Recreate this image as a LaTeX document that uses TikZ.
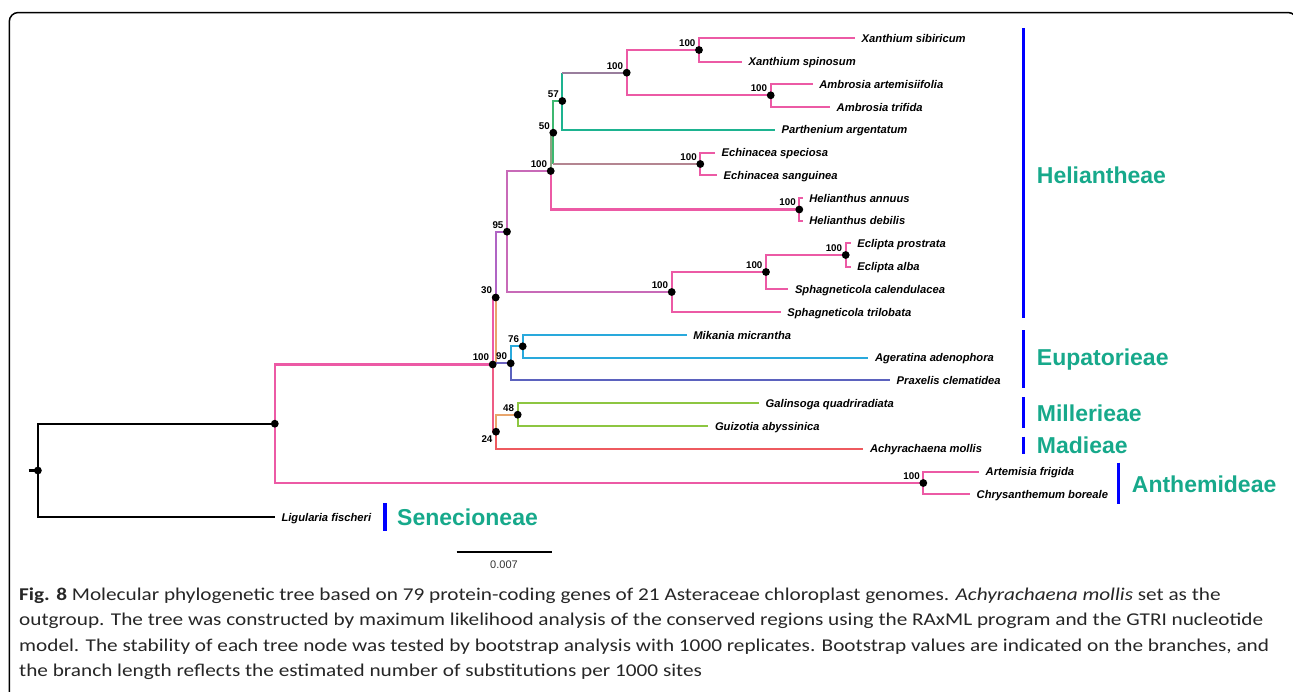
\documentclass[tikz,border=0pt]{standalone}
\usepackage{fontspec}
\setmainfont{Liberation Sans}
\newfontfamily\capfont[FakeStretch=1.18]{Carlito}
\usetikzlibrary{positioning}
\definecolor{brpink}{HTML}{EC5AA5}
\definecolor{brteal}{HTML}{1DB390}
\definecolor{brgreen}{HTML}{3DB870}
\definecolor{brolive}{HTML}{8FA283}
\definecolor{brpurple}{HTML}{B064C4}
\definecolor{brmauve}{HTML}{C86AB8}
\definecolor{brorange}{HTML}{E8A56C}
\definecolor{brcyan}{HTML}{29A9DC}
\definecolor{brindigo}{HTML}{5B62BE}
\definecolor{brlime}{HTML}{8DC641}
\definecolor{brred}{HTML}{EE5A5F}
\definecolor{brrose}{HTML}{EE5C84}
\definecolor{tribe}{HTML}{17A98B}
\def\clade#1#2#3{\draw[br,#1] (#2) |- (#3);}
\def\taxon#1#2{\node[taxon,right=6.5pt of #1] (l#1) {#2};}

\begin{document}
\begin{tikzpicture}[x=1pt,y=-1pt,
    br/.style={line width=2.3pt},
    dot/.style={circle,fill=black,inner sep=0pt,minimum size=7.8pt,label distance=0.6pt},
    boot/.style={font=\bfseries\fontsize{9.8}{9.8}\selectfont,inner sep=0.5pt},
    taxon/.style={font=\bfseries\itshape\fontsize{11.2}{11.2}\selectfont,inner sep=0pt,text height=8pt,text depth=0pt},
    tribe/.style={font=\bfseries\fontsize{23}{23}\selectfont,text=tribe,inner sep=0pt,anchor=west,text height=16.5pt,text depth=0pt},
    bar/.style={line width=3.2pt,blue}]
  \useasboundingbox (0,0) rectangle (1293,691);
  \clip (0,0) rectangle (1293,691);
  % frame
  \draw[line width=1.5pt,rounded corners=9pt] (9.3,720) |- (1297,12.5) -- (1297,720);

  % inner nodes
  \coordinate (root) at (37.9,470.5);
  \coordinate (ast)  at (274.8,423.7);
  \coordinate (nB)   at (492.7,364.5);
  \coordinate (n30)  at (495.7,297.5);
  \coordinate (n95)  at (507,231.7);
  \coordinate (nHa)  at (550.7,171);
  \coordinate (n50)  at (553.3,132.7);
  \coordinate (n57)  at (562.3,101);
  \coordinate (nXA)  at (626.7,72.7);
  \coordinate (nXan) at (699,50);
  \coordinate (nAmb) at (770.7,95.3);
  \coordinate (nEch) at (700.3,164);
  \coordinate (nHel) at (799.3,209.5);
  \coordinate (nSph) at (671.7,292);
  \coordinate (nSE)  at (766,272);
  \coordinate (nEcl) at (845.7,255);
  \coordinate (n90)  at (510.7,363.3);
  \coordinate (n76)  at (522.7,346.3);
  \coordinate (n24)  at (496,431.7);
  \coordinate (n48)  at (517.7,414.7);
  \coordinate (nAnt) at (923.3,483);

  % tips
  \coordinate (t1)  at (855,38.3);
  \coordinate (t2)  at (742,61.7);
  \coordinate (t3)  at (812.7,84);
  \coordinate (t4)  at (830,107.3);
  \coordinate (t5)  at (775,129.7);
  \coordinate (t6)  at (715,152.7);
  \coordinate (t7)  at (717,175.3);
  \coordinate (t8)  at (802.7,198.3);
  \coordinate (t9)  at (802.7,220.7);
  \coordinate (t10) at (850.7,243.3);
  \coordinate (t11) at (850.7,266.7);
  \coordinate (t12) at (788.3,289.3);
  \coordinate (t13) at (780.7,312.3);
  \coordinate (t14) at (686.7,335);
  \coordinate (t15) at (868.3,357.7);
  \coordinate (t16) at (890,380);
  \coordinate (t17) at (759,403.3);
  \coordinate (t18) at (708.3,426);
  \coordinate (t19) at (863.3,448.7);
  \coordinate (t20) at (979,471.7);
  \coordinate (t21) at (970,494);
  \coordinate (t22) at (274.8,517);
  \coordinate (stub) at (28.7,470.5);

  % branches
  \draw[br,black] (stub) -- (root);
  \clade{black}{root}{ast}
  \clade{black}{root}{t22}
  \clade{brpink}{ast}{nB}
  \clade{brpink}{ast}{nAnt}
  \clade{brpink}{nAnt}{t20}
  \clade{brpink}{nAnt}{t21}
  \clade{brpink}{nB}{n30}
  \clade{brrose}{nB}{n24}
  \clade{brpurple}{n30}{n95}
  \draw[br,brorange] (n30) -- (n30 |- n90);
  \draw[br,brindigo!80!brpurple] (n30 |- n90) -- (n90);
  \clade{brcyan}{n90}{n76}
  \clade{brindigo}{n90}{t16}
  \clade{brcyan}{n76}{t14}
  \clade{brcyan}{n76}{t15}
  \clade{brorange}{n24}{n48}
  \clade{brred}{n24}{t19}
  \clade{brlime}{n48}{t17}
  \clade{brlime}{n48}{t18}
  \clade{brmauve}{n95}{nHa}
  \clade{brmauve}{n95}{nSph}
  \clade{brolive}{nHa}{n50}
  \clade{brpink}{nHa}{nHel}
  \clade{brgreen}{n50}{n57}
  \draw[br,brgreen] (n50) -- (n50 |- nEch);
  \draw[br,brolive!60!brpink] (n50 |- nEch) -- (nEch);
  \draw[br,brteal] (n57) -- (n57 |- nXA);
  \draw[br,brteal!40!brpink] (n57 |- nXA) -- (nXA);
  \clade{brteal}{n57}{t5}
  \clade{brpink}{nXA}{nXan}
  \clade{brpink}{nXA}{nAmb}
  \clade{brpink}{nXan}{t1}
  \clade{brpink}{nXan}{t2}
  \clade{brpink}{nAmb}{t3}
  \clade{brpink}{nAmb}{t4}
  \clade{brpink}{nEch}{t6}
  \clade{brpink}{nEch}{t7}
  \clade{brpink}{nHel}{t8}
  \clade{brpink}{nHel}{t9}
  \clade{brpink}{nSph}{nSE}
  \clade{brpink}{nSph}{t13}
  \clade{brpink}{nSE}{nEcl}
  \clade{brpink}{nSE}{t12}
  \clade{brpink}{nEcl}{t10}
  \clade{brpink}{nEcl}{t11}

  % dots and bootstrap values
  \node[dot] at (root) {};
  \node[dot] at (ast) {};
  \node[dot,label={[boot]above left:100}] at (nB) {};
  \node[dot,label={[boot]above left:30}] at (n30) {};
  \node[dot,label={[boot]above left:95}] at (n95) {};
  \node[dot,label={[boot]above left:100}] at (nHa) {};
  \node[dot,label={[boot]above left:50}] at (n50) {};
  \node[dot,label={[boot]above left:57}] at (n57) {};
  \node[dot,label={[boot]above left:100}] at (nXA) {};
  \node[dot,label={[boot]above left:100}] at (nXan) {};
  \node[dot,label={[boot]above left:100}] at (nAmb) {};
  \node[dot,label={[boot]above left:100}] at (nEch) {};
  \node[dot,label={[boot]above left:100}] at (nHel) {};
  \node[dot,label={[boot]above left:100}] at (nSph) {};
  \node[dot,label={[boot]above left:100}] at (nSE) {};
  \node[dot,label={[boot]above left:100}] at (nEcl) {};
  \node[dot,label={[boot]above left:90}] at (n90) {};
  \node[dot,label={[boot]above left:76}] at (n76) {};
  \node[dot,label={[boot]below left:24}] at (n24) {};
  \node[dot,label={[boot]above left:48}] at (n48) {};
  \node[dot,label={[boot]above left:100}] at (nAnt) {};

  % taxa
  \taxon{t1}{Xanthium sibiricum}
  \taxon{t2}{Xanthium spinosum}
  \taxon{t3}{Ambrosia artemisiifolia}
  \taxon{t4}{Ambrosia trifida}
  \taxon{t5}{Parthenium argentatum}
  \taxon{t6}{Echinacea speciosa}
  \taxon{t7}{Echinacea sanguinea}
  \taxon{t8}{Helianthus annuus}
  \taxon{t9}{Helianthus debilis}
  \taxon{t10}{Eclipta prostrata}
  \taxon{t11}{Eclipta alba}
  \taxon{t12}{Sphagneticola calendulacea}
  \taxon{t13}{Sphagneticola trilobata}
  \taxon{t14}{Mikania micrantha}
  \taxon{t15}{Ageratina adenophora}
  \taxon{t16}{Praxelis clematidea}
  \taxon{t17}{Galinsoga quadriradiata}
  \taxon{t18}{Guizotia abyssinica}
  \taxon{t19}{Achyrachaena mollis}
  \taxon{t20}{Artemisia frigida}
  \taxon{t21}{Chrysanthemum boreale}
  \taxon{t22}{Ligularia fischeri}

  % tribes
  \node[tribe] (hel) at (1036.7,175) {Heliantheae};
  \node[tribe] (eup) at (1036.7,357.3) {Eupatorieae};
  \node[tribe] (mil) at (1036.7,413.3) {Millerieae};
  \node[tribe] (mad) at (1036.7,445.7) {Madieae};
  \node[tribe] (ant) at (1131.7,484) {Anthemideae};
  \node[tribe] (sen) at (397,517.3) {Senecioneae};
  \draw[bar] (1023.3,28.3) -- (1023.3,318);
  \draw[bar] (1023.3,330) -- (1023.3,388.3);
  \draw[bar] (1023.3,397.3) -- (1023.3,427.7);
  \draw[bar] (1023.3,436.7) -- (1023.3,454.3);
  \draw[bar] (1118.7,462.7) -- (1118.7,504.3);
  \draw[bar] (385,503.3) -- (385,530.7);

  % scale
  \draw[line width=2.8pt] (456.6,552) -- (552.2,552);
  \node[font=\fontsize{11}{11}\selectfont,text=black!80] (sc) at (504,565) {0.007};

  % caption
  \begin{scope}[every node/.style={anchor=base west,inner sep=0pt,text=black!85,font=\capfont\fontsize{18}{18}\selectfont}]
    \node (cap1) at (19,600) {\textbf{Fig. 8} Molecular phylogenetic tree based on 79 protein-coding genes of 21 Asteraceae chloroplast genomes. \textit{Achyrachaena mollis} set as the};
    \node (cap2) at (19,625.5) {outgroup. The tree was constructed by maximum likelihood analysis of the conserved regions using the RAxML program and the GTRI nucleotide};
    \node (cap3) at (19,651) {model. The stability of each tree node was tested by bootstrap analysis with 1000 replicates. Bootstrap values are indicated on the branches, and};
    \node (cap4) at (19,676.5) {the branch length reflects the estimated number of substitutions per 1000 sites};
  \end{scope}
\end{tikzpicture}
\end{document}
